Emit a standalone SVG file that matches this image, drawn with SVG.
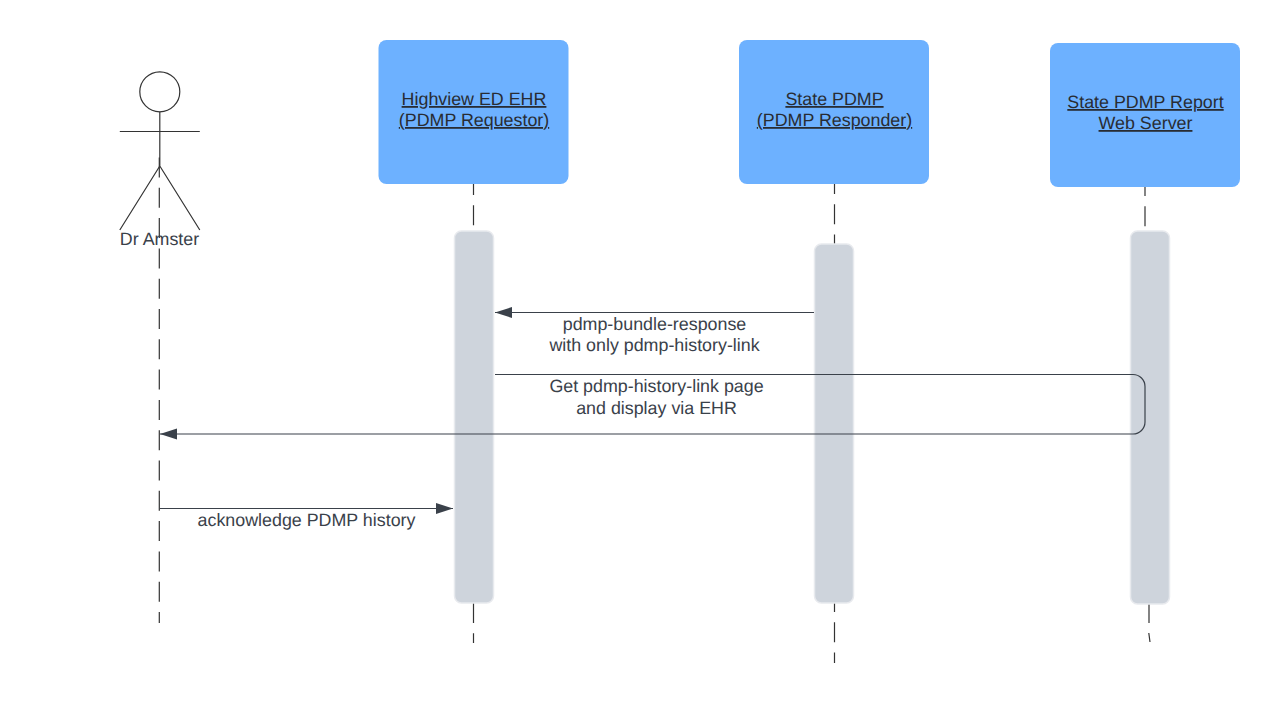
<svg xmlns="http://www.w3.org/2000/svg" width="1280" height="703" viewBox="0 0 1280 703">
<style>
text{font-family:"Liberation Sans",Arial,sans-serif;font-size:17.85px;fill:#282c33;text-anchor:middle;text-rendering:geometricPrecision}
.lbl{fill:#3a414a}
.h{fill:#6db1ff}
.a{fill:#ced4dc;stroke:#e8eaee;stroke-width:1.5}
.l{stroke:#333;stroke-width:1.2;fill:none;stroke-dasharray:20 10.3}
.c{stroke:#3a414a;stroke-width:1.2;fill:none}
.s{stroke:#333;stroke-width:1.2;fill:none}
</style>
<defs>
<marker id="arr" markerUnits="userSpaceOnUse" markerWidth="18" markerHeight="13" refX="17" refY="6.500" orient="auto-start-reverse"><path d="M0 1 L17 6.500 L0 12Z" fill="#3a414a"/></marker>
</defs>
<g id="lifelines">
<path class="l" d="M159.300 157.500V623"/>
<path class="l" d="M473.500 184V231" stroke-dashoffset="9"/>
<path class="l" d="M473.500 603V643"/>
<path class="l" d="M834.500 184V244" stroke-dashoffset="10"/>
<path class="l" d="M834.500 603V663" stroke-dashoffset="11"/>
<path class="l" d="M1145 187V231" stroke-dashoffset="11"/>
<path class="l" d="M1149 604V623M1148.800 633L1150 642" style="stroke-dasharray:none"/>
</g>
<g id="actor">
<circle class="s" cx="159.800" cy="91.800" r="20"/>
<path class="s" d="M159.800 111.800V166M119.800 131.500H199.800M159.800 166L119.800 230M159.800 166L199.800 230"/>
<text x="159.500" y="244.500" class="lbl">Dr Amster</text>
</g>
<g id="highview"><rect class="h" x="378.500" y="40" width="190" height="144" rx="8"/>
<text x="474" y="105" text-decoration="underline">Highview ED EHR</text><text x="474" y="126" text-decoration="underline">(PDMP Requestor)</text></g>
<g id="state-pdmp"><rect class="h" x="739" y="40" width="190" height="144" rx="8"/>
<text x="834.500" y="105" text-decoration="underline">State PDMP</text><text x="834.500" y="126" text-decoration="underline">(PDMP Responder)</text></g>
<g id="report-server"><rect class="h" x="1050" y="43" width="190" height="144" rx="8"/>
<text x="1145.500" y="108" text-decoration="underline">State PDMP Report</text><text x="1145.500" y="129" text-decoration="underline">Web Server</text></g>
<g id="activation-ehr"><rect class="a" x="454.500" y="231" width="39" height="372" rx="7"/></g>
<g id="activation-pdmp"><rect class="a" x="814.500" y="244" width="39" height="359" rx="7"/></g>
<g id="activation-report"><rect class="a" x="1130.500" y="231" width="39" height="373" rx="7"/></g>
<g id="connectors">
<path class="c" d="M814 312.500H495" marker-end="url(#arr)"/>
<path class="c" d="M495 374.500H1133a12 12 0 0 1 12 12V422a12 12 0 0 1 -12 12H160" marker-end="url(#arr)"/>
<path class="c" d="M159.500 508.500H453" marker-end="url(#arr)"/>
</g>
<g id="labels">
<text x="654.500" y="330" class="lbl">pdmp-bundle-response</text>
<text x="654.500" y="351" class="lbl">with only pdmp-history-link</text>
<text x="656.500" y="392" class="lbl">Get pdmp-history-link page</text>
<text x="656.500" y="414" class="lbl">and display via EHR</text>
<text x="306.500" y="526" class="lbl">acknowledge PDMP history</text>
</g>
</svg>
